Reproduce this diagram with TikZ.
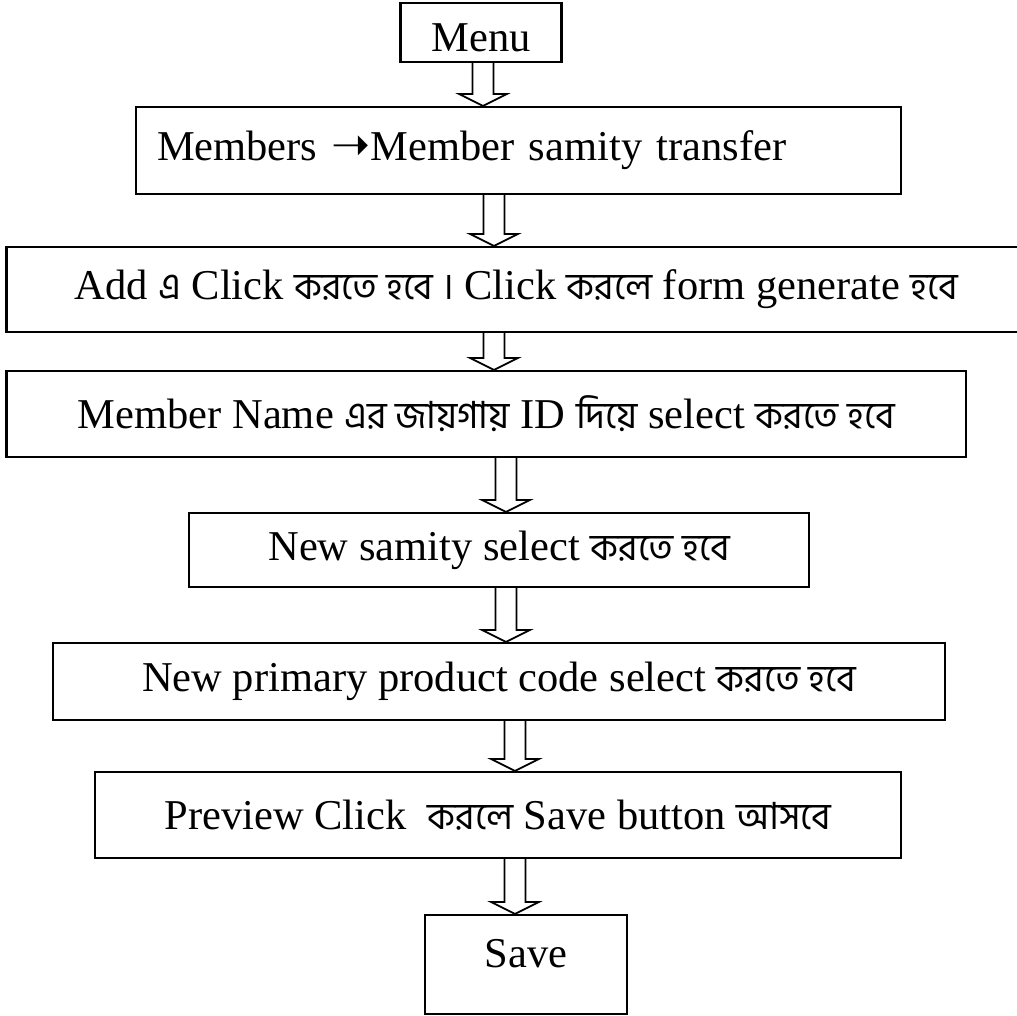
\documentclass[tikz,border=0pt]{standalone}
\usepackage{fontspec}
\setmainfont{Liberation Serif}
\newfontfamily\bn[Script=Bengali, Scale=0.88]{Hind Siliguri}
\newfontfamily\sym[Scale=1.1]{DejaVu Sans}
\usetikzlibrary{calc}

\tikzset{
    flowarrow/.style={line width=1.8pt, line join=miter},
}
% hollow block arrow from #1 down to #2 at x = #3
\newcommand\flow[3]{%
    \draw[flowarrow] let \p1=(#3,0 |- #1.south), \p2=(#3,0 |- #2.north) in
        (\x1-10.5pt,\y1) -- (\x1-10.5pt,\y2+12pt) -- (\x1-24pt,\y2+12pt) -- (\x1,\y2)
        -- (\x1+24pt,\y2+12pt) -- (\x1+10.5pt,\y2+12pt) -- (\x1+10.5pt,\y1);}

\begin{document}
\begin{tikzpicture}[x=1pt, y=-1pt, font=\fontsize{42.5}{50}\selectfont]
            \useasboundingbox (0,0) rectangle (1017,1015);
            \begin{scope}[every node/.style={draw, line width=2.2pt, inner sep=0pt}]

                \node[minimum width=161pt, minimum height=59pt, text height=39pt] (menu) at (481,32.5) {Menu};
                \node[minimum width=765pt, minimum height=87pt, text width=723pt, align=left] (transfer) at (518.5,150.5) {Members {\sym ➝}Member samity transfer};
                \node[minimum width=1019.5pt, minimum height=85pt] (add) at (516.25,289.5) {Add {\bn এ} Click {\bn করতে হবে ।} Click {\bn করলে} form generate {\bn হবে}};
                \node[minimum width=959.5pt, minimum height=86pt] (name) at (486.25,414) {Member Name {\bn এর জায়গায়} ID {\bn দিয়ে} select {\bn করতে হবে}};
                \node[minimum width=620pt, minimum height=74pt] (samity) at (499,550) {New samity select {\bn করতে হবে}};
                \node[minimum width=892pt, minimum height=77pt] (product) at (499,681.5) {New primary product code select {\bn করতে হবে}};
                \node[minimum width=806pt, minimum height=86pt] (preview) at (498,815) {Preview Click\ \ {\bn করলে} Save button {\bn আসবে}};
                \node[minimum width=202pt, minimum height=99pt, text depth=22pt] (save) at (526,964.5) {Save};

            \end{scope}
            \flow{menu}{transfer}{483}
            \flow{transfer}{add}{494}
            \flow{add}{name}{494}
            \flow{name}{samity}{506}
            \flow{samity}{product}{506}
            \flow{product}{preview}{515}
            \flow{preview}{save}{515}
        \end{tikzpicture}
\end{document}
